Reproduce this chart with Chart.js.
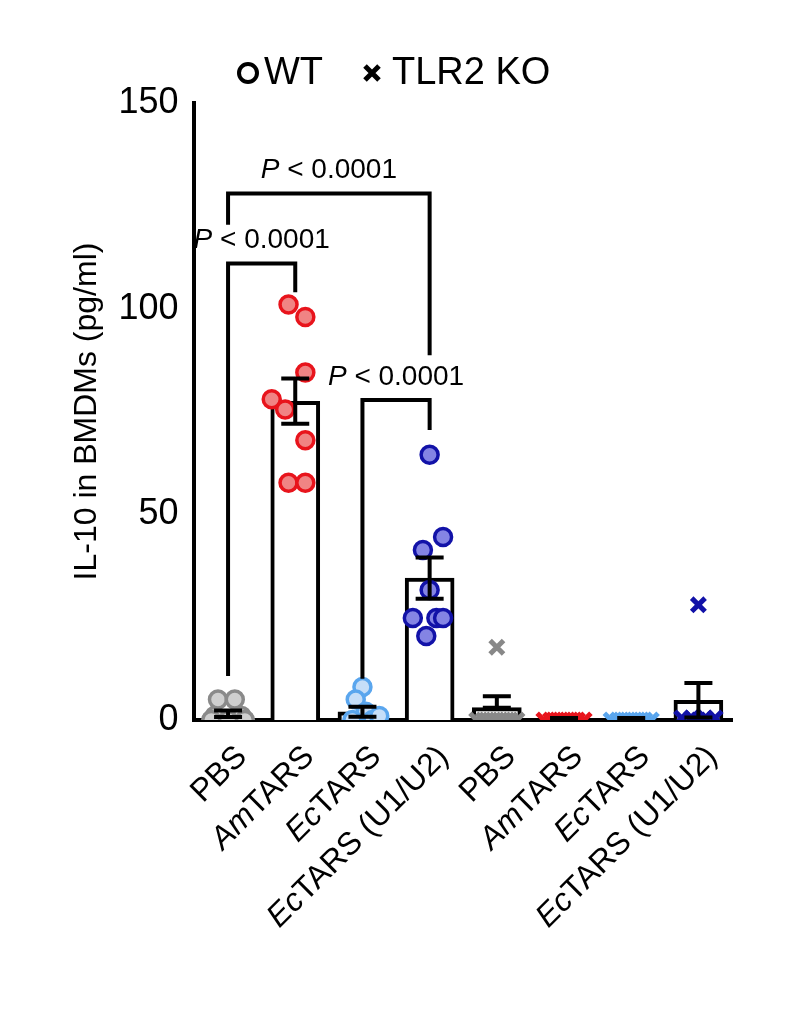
<!DOCTYPE html><html><head><style>body{margin:0;background:#fff}</style>
<script src="https://cdn.jsdelivr.net/npm/chart.js@4"></script></head><body>
<div style="width:797px;height:1017px"><canvas id="c"></canvas></div>
<script>
const categories=[["","PBS"],["Am","TARS"],["Ec","TARS"],["Ec","TARS (U1/U2)"],["","PBS"],["Am","TARS"],["Ec","TARS"],["Ec","TARS (U1/U2)"]];
const means=[1.5,77.5,2,34.5,3,0.3,0.3,4.8];
const sems=[0.8,5.5,1.2,5,2.8,0.2,0.2,4.2];
const wtPBS=[[-0.2,1],[0.2,1],[-0.15,5],[0.1,5],[-0.25,0],[0.25,0],[0,0]];
const wtAm=[[-0.1,101],[0.15,98],[0.15,84.5],[-0.35,78],[-0.15,75.5],[0.15,68],[-0.1,57.7],[0.15,57.7]];
const wtEc=[[0,8],[-0.1,5],[0.05,2],[-0.15,0],[0.15,0],[0.25,1]];
const wtU=[[0,64.5],[0.2,44.5],[-0.1,41.3],[0,31.6],[-0.25,24.8],[0.1,24.8],[0.2,24.8],[-0.05,20.4]];
const koPBS=[[0,17.7],[-0.3,0],[-0.2,0],[-0.1,0],[0,0],[0.1,0],[0.2,0],[0.3,0]];
const koAm=[[-0.3,0],[-0.2,0],[-0.1,0],[0,0],[0.1,0],[0.2,0],[0.3,0]];
const koEc=[[-0.3,0],[-0.2,0],[-0.1,0],[0,0],[0.1,0],[0.2,0],[0.3,0]];
const koU=[[0,28],[-0.25,0.5],[-0.1,0.5],[0.1,0.5],[0.25,0.5],[0,0]];
const brackets=[[0,1,111,10.7,104,"0.0001"],[0,3,128,120.4,88.7,"0.0001"],[2,3,77.8,10,70.5,"0.0001"]];
const yTicks=[0,50,100,150];
const F='"Liberation Sans", Arial, sans-serif';
function pts(arr,i){return arr.map(p=>({x:i+p[0],y:p[1]}));}
function circ(arr,i,b,f){return {type:'scatter',data:pts(arr,i),pointRadius:8.5,borderWidth:3.5,borderColor:b,backgroundColor:f,pointStyle:'circle'};}
function crs(arr,i,b){return {type:'scatter',data:pts(arr,i),pointRadius:9.5,borderWidth:5,borderColor:b,backgroundColor:b,pointStyle:'crossRot'};}
const deco={id:'deco',afterDatasetsDraw(ch){const c=ch.ctx,x=ch.scales.x,y=ch.scales.y;c.save();c.strokeStyle='#000';c.lineWidth=4;
means.forEach((m,i)=>{const px=x.getPixelForValue(i);c.beginPath();c.moveTo(px,y.getPixelForValue(m));c.lineTo(px,y.getPixelForValue(m+sems[i]));c.moveTo(px-14,y.getPixelForValue(m+sems[i]));c.lineTo(px+14,y.getPixelForValue(m+sems[i]));
if(m-sems[i]>0.5){c.moveTo(px,y.getPixelForValue(m));c.lineTo(px,y.getPixelForValue(m-sems[i]));c.moveTo(px-14,y.getPixelForValue(m-sems[i]));c.lineTo(px+14,y.getPixelForValue(m-sems[i]));}else{c.moveTo(px-14,y.getPixelForValue(m));c.lineTo(px+14,y.getPixelForValue(m));}c.stroke();});
brackets.forEach(b=>{const a=x.getPixelForValue(b[0]),d=x.getPixelForValue(b[1]),t=y.getPixelForValue(b[2]);c.beginPath();c.moveTo(a,y.getPixelForValue(b[3]));c.lineTo(a,t);c.lineTo(d,t);c.lineTo(d,y.getPixelForValue(b[4]));c.stroke();
c.fillStyle='#000';c.textBaseline='alphabetic';c.font='italic 28px '+F;const w1=c.measureText('P').width;c.font='28px '+F;const s=' < '+b[5];const w2=c.measureText(s).width;let sx=(a+d)/2-(w1+w2)/2;c.font='italic 28px '+F;c.fillText('P',sx,t-15);c.font='28px '+F;c.fillText(s,sx+w1,t-15);});
categories.forEach((lab,i)=>{const px=x.getPixelForValue(i);c.save();c.translate(px+14,752);c.rotate(-Math.PI/4);c.textAlign='left';c.textBaseline='middle';c.font='32px '+F;const w2=c.measureText(lab[1]).width;c.font='italic 32px '+F;const w1=c.measureText(lab[0]).width;c.fillText(lab[0],-(w1+w2),0);c.font='32px '+F;c.fillText(lab[1],-w2,0);c.restore();});
c.lineWidth=4;c.beginPath();c.arc(248,73,9,0,7);c.stroke();c.font='38px '+F;c.textBaseline='middle';c.fillText('WT',264,74);
c.lineWidth=5;c.beginPath();c.moveTo(365,66);c.lineTo(379,80);c.moveTo(379,66);c.lineTo(365,80);c.stroke();c.fillText('TLR2 KO',392,74);
c.restore();}};
new Chart(document.getElementById('c'),{type:'bar',data:{datasets:[
{data:means.map((m,i)=>({x:i,y:m})),backgroundColor:'#fff',borderColor:'#000',borderWidth:4,barThickness:49,order:10},
circ(wtPBS,0,'#8a8a8a','#cfcfcf'),circ(wtAm,1,'#e8141c','#f08484'),circ(wtEc,2,'#5aa6ee','#c6def8'),circ(wtU,3,'#1212a8','#8484e4'),
crs(koPBS,4,'#888'),crs(koAm,5,'#e8141c'),crs(koEc,6,'#5aa6ee'),crs(koU,7,'#1212a8')]},
options:{responsive:true,maintainAspectRatio:false,animation:false,plugins:{legend:{display:false},tooltip:{enabled:false}},
layout:{padding:{left:60,right:65,top:103,bottom:0}},
scales:{x:{type:'linear',min:-0.5,max:7.5,offset:false,grid:{display:false,drawTicks:true,tickLength:12,tickWidth:4,tickColor:'#000'},border:{display:true,width:4,color:'#000'},afterBuildTicks(s){s.ticks=categories.map((l,i)=>({value:i}));},ticks:{display:true,color:'rgba(0,0,0,0)',font:{size:1},padding:0},afterFit(s){s.height=297;}},
y:{min:0,max:150,grid:{display:false,drawTicks:true,tickLength:12,tickWidth:4,tickColor:'#000'},border:{width:4,color:'#000'},afterBuildTicks(s){s.ticks=yTicks.map(v=>({value:v}));},
ticks:{color:'#000',font:{size:36,family:F},padding:4},title:{display:true,text:'IL-10 in BMDMs (pg/ml)',color:'#000',font:{size:32,family:F},padding:8}}}},plugins:[deco]});
</script></body></html>
